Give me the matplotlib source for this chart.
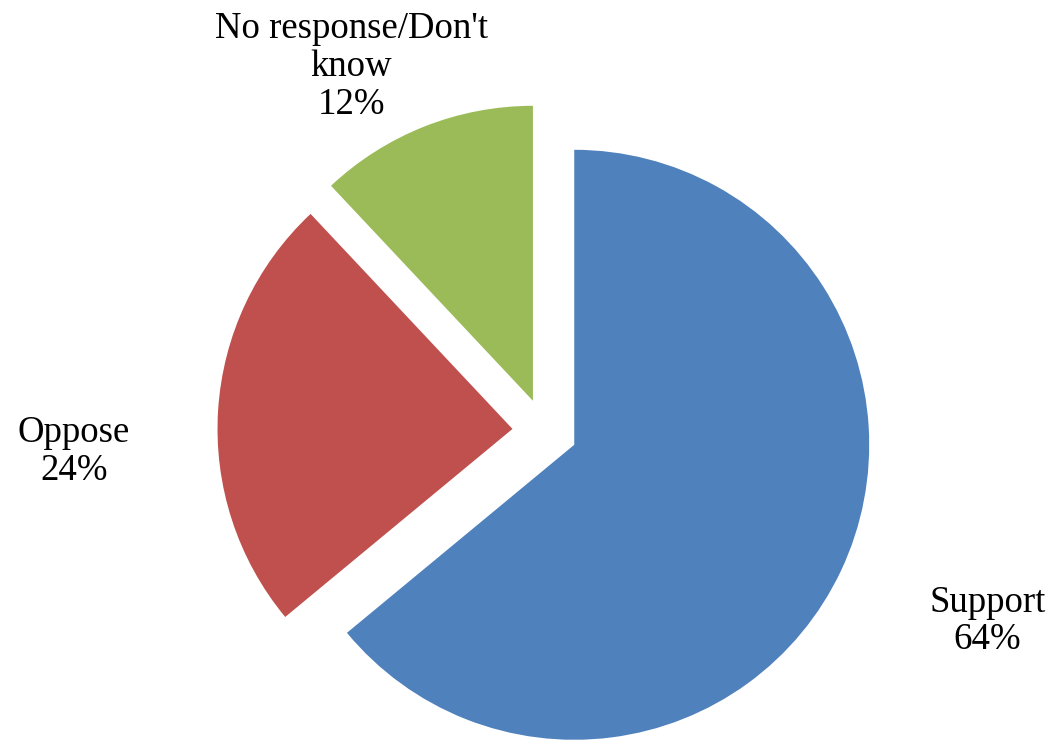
import matplotlib
matplotlib.use('Agg')
import matplotlib.pyplot as plt

labels = ['Support', 'Oppose', "No response/Don't\nknow"]
values = [64, 24, 12]
colors = ['#4F81BD', '#C0504D', '#9BBB59']

# label spots, in units of pie radius
label_pos = [(1.50, -0.645), (-1.597, -0.07), (-0.655, 1.235)]

plt.rcParams['font.family'] = ['Liberation Serif', 'DejaVu Serif']

fig = plt.figure(figsize=(10.52, 7.41), dpi=100)
ax = fig.add_axes([0, 0, 1, 1])

wedges, _ = ax.pie(values, colors=colors, startangle=90, counterclock=False,
                   explode=[0.11] * 3, radius=1)

for lab, v, (x, y) in zip(labels, values, label_pos):
    ax.text(x, y, f'{lab}\n{v}%', ha='center', va='center', fontsize=26.5,
            linespacing=1.13)

ax.set_xlim(-1.847, 1.719)
ax.set_ylim(-1.051, 1.461)
ax.set_aspect('equal')
ax.axis('off')

fig.savefig('out.png', dpi=100)
